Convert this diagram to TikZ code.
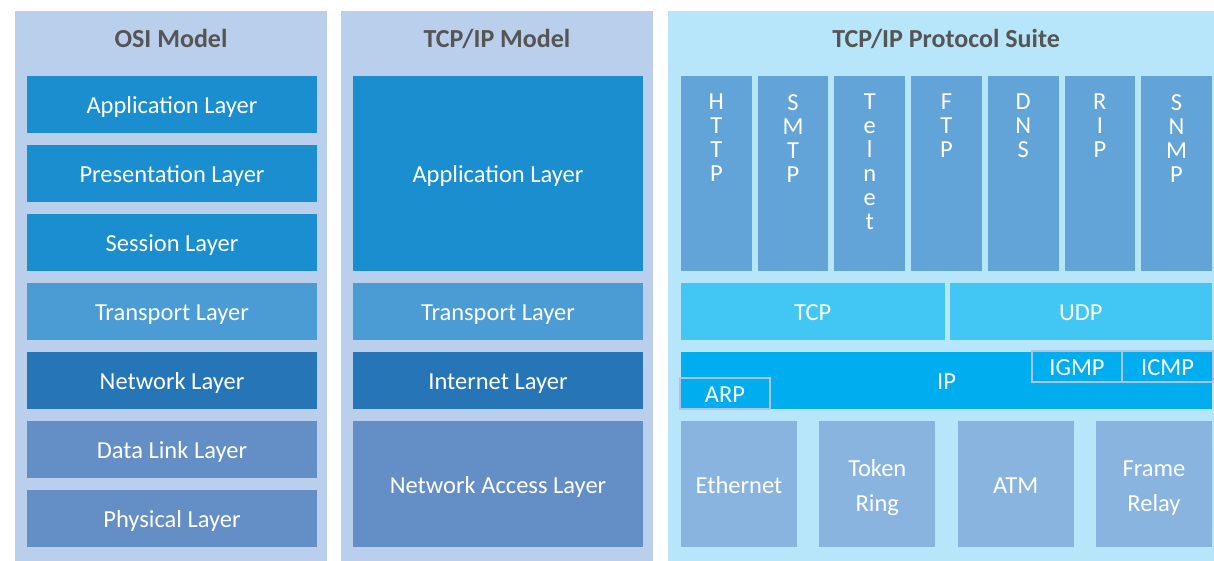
\documentclass[tikz,border=0pt]{standalone}
\usepackage{fontspec}
\setmainfont{Carlito}

\definecolor{panelbg}{HTML}{BACFEB}
\definecolor{suitebg}{HTML}{B7E5F9}
\definecolor{hdrgray}{HTML}{555555}
\definecolor{appblue}{HTML}{1A8ECF}
\definecolor{transblue}{HTML}{4B9CD5}
\definecolor{netblue}{HTML}{2676B7}
\definecolor{linkblue}{HTML}{638FC6}
\definecolor{protoblue}{HTML}{62A4D8}
\definecolor{tcpcyan}{HTML}{42C6F3}
\definecolor{ipcyan}{HTML}{00AEEF}
\definecolor{hwblue}{HTML}{89B4DF}
\definecolor{subborder}{HTML}{AFC3E6}

\tikzset{
  panel/.style={inner sep=0pt, outer sep=0pt, draw=none},
  hdr/.style={inner sep=0pt, text=hdrgray, font=\bfseries\fontsize{26}{30}\selectfont,
    text height=16pt, text depth=0pt},
  blk/.style={inner sep=0pt, outer sep=0pt, draw=none, text=white,
    font=\fontsize{24.5}{28}\selectfont, text height=18pt, text depth=0pt},
  twoline/.style={inner sep=0pt, text=white, align=center,
    font=\fontsize{24.5}{35}\selectfont},
  sub/.style={blk, fill=ipcyan, draw=subborder, line width=2pt},
  vtxt/.style={inner sep=0pt, text=white, align=center, anchor=north,
    font=\fontsize{24.5}{24}\selectfont},
  osiw/.style={minimum width=290pt},
}

\begin{document}
\begin{tikzpicture}[x=1pt, y=-1pt]
\useasboundingbox (0,0) rectangle (1214,561);
\fill[white] (0,0) rectangle (1214,561);

% three background panels
\node[panel, fill=panelbg, minimum width=312pt, minimum height=550pt] (osi) at (171,286) {};
\node[panel, fill=panelbg, minimum width=312pt, minimum height=550pt] (tcpm) at (497,286) {};
\node[panel, fill=suitebg, minimum width=546pt, minimum height=550pt] (suite) at (941,286) {};

% panel headings
\node[hdr] (osi-h) at (171,39.5) {OSI Model};
\node[hdr] (tcpm-h) at (497,39.5) {TCP/IP Model};
\node[hdr] (suite-h) at (946,39.5) {TCP/IP Protocol Suite};

% OSI model layers
\begin{scope}[every node/.append style={blk, osiw, minimum height=57pt}]
\node[fill=appblue]   (osi-app)   at (172,104.5) {Application Layer};
\node[fill=appblue]   (osi-pres)  at (172,173.5) {Presentation Layer};
\node[fill=appblue]   (osi-sess)  at (172,242.5) {Session Layer};
\node[fill=transblue] (osi-trans) at (172,311.5) {Transport Layer};
\node[fill=netblue]   (osi-net)   at (172,380.5) {Network Layer};
\node[fill=linkblue]  (osi-dl)    at (172,449.5) {Data Link Layer};
\node[fill=linkblue]  (osi-phys)  at (172,518.5) {Physical Layer};
\end{scope}

% TCP/IP model layers
\begin{scope}[every node/.append style={blk, osiw}]
\node[fill=appblue, minimum height=195pt]  (tm-app)   at (498,173.5) {Application Layer};
\node[fill=transblue, minimum height=57pt] (tm-trans) at (498,311.5) {Transport Layer};
\node[fill=netblue, minimum height=57pt]   (tm-int)   at (498,380.5) {Internet Layer};
\node[fill=linkblue, minimum height=126pt] (tm-na)    at (498,484)   {Network Access Layer};
\end{scope}

% application protocols (vertical lettering)
\foreach \i/\nm/\txt in {0/http/{H\\T\\T\\P}, 1/smtp/{S\\M\\T\\P}, 2/telnet/{T\\e\\l\\n\\e\\t},
                        3/ftp/{F\\T\\P}, 4/dns/{D\\N\\S}, 5/rip/{R\\I\\P}, 6/snmp/{S\\N\\M\\P}} {
  \pgfmathsetmacro{\cx}{681+35.35+76.7*\i}
  \node[blk, fill=protoblue, minimum width=70.7pt, minimum height=195pt] (\nm) at (\cx,173.5) {};
  \node[vtxt] (\nm-t) at (\cx,94) {\txt};
}

% transport protocols
\node[blk, fill=tcpcyan, minimum width=263.5pt, minimum height=57pt] (tcp) at (812.75,311.5) {TCP};
\node[blk, fill=tcpcyan, minimum width=262.5pt, minimum height=57pt] (udp) at (1080.75,311.5) {UDP};

% internet layer
\node[blk, fill=ipcyan, minimum width=531pt, minimum height=57pt] (ip) at (946.5,380.5) {IP};
\node[sub, minimum width=90pt, minimum height=31pt] (igmp) at (1077,366.5) {IGMP};
\node[sub, minimum width=91pt, minimum height=31pt] (icmp) at (1167.5,366.5) {ICMP};
\node[sub, minimum width=90pt, minimum height=31pt] (arp)  at (725,393.5) {ARP};

% link technologies
\node[blk, fill=hwblue, minimum width=116pt, minimum height=126pt] (eth) at (739,484) {Ethernet};
\node[blk, fill=hwblue, minimum width=116pt, minimum height=126pt] (tr)  at (877.3,484) {};
\node[twoline] (tr-t) at (877.3,488) {Token\\Ring};
\node[blk, fill=hwblue, minimum width=116pt, minimum height=126pt] (atm) at (1015.7,484) {ATM};
\node[blk, fill=hwblue, minimum width=116pt, minimum height=126pt] (fr)  at (1154,484) {};
\node[twoline] (fr-t) at (1154,488) {Frame\\Relay};
\end{tikzpicture}
\end{document}
